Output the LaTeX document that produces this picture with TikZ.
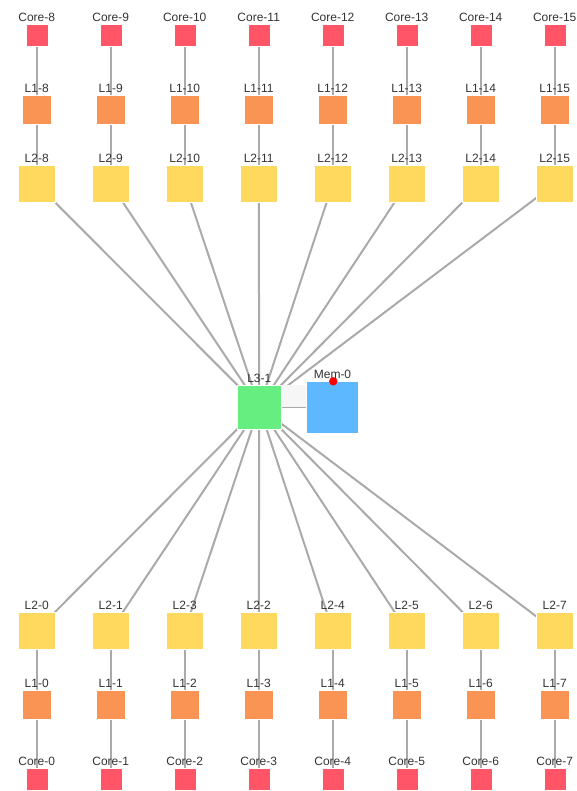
\documentclass[tikz,border=0pt]{standalone}
\usepackage{fontspec}
\setmainfont{Liberation Sans}
\pgfdeclarelayer{bg}
\pgfsetlayers{bg,main}
\definecolor{corec}{RGB}{255,85,102}
\definecolor{lonec}{RGB}{249,148,85}
\definecolor{ltwoc}{RGB}{255,217,94}
\definecolor{lthreec}{RGB}{102,238,128}
\definecolor{memc}{RGB}{94,184,255}
\definecolor{edgec}{RGB}{170,170,170}
\definecolor{txtc}{RGB}{51,51,51}
\definecolor{shadec}{RGB}{246,246,246}
\begin{document}
\begin{tikzpicture}[x=1pt,y=-1pt,
  box/.style={draw=white, line width=0.4pt, inner sep=0pt, outer sep=0pt, rectangle},
  corebox/.style={box, fill=corec, minimum size=22pt},
  lonebox/.style={box, fill=lonec, minimum size=29pt},
  ltwobox/.style={box, fill=ltwoc, minimum size=37pt},
  lthreebox/.style={box, fill=lthreec, minimum size=44pt},
  membox/.style={box, fill=memc, minimum size=52pt},
  lbl/.style={anchor=base, font=\fontsize{12}{14}\selectfont, text=txtc, inner sep=0pt},
  link/.style={draw=edgec, line width=2pt}]
\useasboundingbox (0,0) rectangle (577,791);

% centre
\fill[shadec] (281.3,385) rectangle (306.7,407);
\node[lthreebox] (l3) at (259.3,407) {};
\node[lbl] at (259.3,382.3) {L3-1};
\node[membox] (mem) at (332.5,407) {};
\node[lbl] at (332.5,378.3) {Mem-0};
\fill[red] (333.3,381.3) circle (4.2);

% top columns
\foreach \i in {0,...,7} {
  \pgfmathsetmacro{\cx}{36.7+74*\i}
  \pgfmathtruncatemacro{\n}{\i+8}
  \node[corebox] (core\n) at (\cx,35.5) {};
  \node[lbl] at (\cx,21.6) {Core-\n};
  \node[lonebox] (lone\n) at (\cx,109.5) {};
  \node[lbl] at (\cx,92.3) {L1-\n};
  \node[ltwobox] (ltwo\n) at (\cx,184) {};
  \node[lbl] at (\cx,163) {L2-\n};
  \begin{pgfonlayer}{bg}
    \draw[link] (core\n.center) -- (lone\n.center);
    \draw[link] (lone\n.center) -- (ltwo\n.center);
    \draw[link] (ltwo\n.center) -- (l3.center);
  \end{pgfonlayer}
}

% bottom columns
\foreach \i/\lt in {0/0,1/1,2/3,3/2,4/4,5/5,6/6,7/7} {
  \pgfmathsetmacro{\cx}{36.7+74*\i}
  \node[ltwobox] (ltwo\lt) at (\cx,630.3) {};
  \node[lbl] at (\cx,609) {L2-\lt};
  \node[lonebox] (lone\i) at (\cx,704.7) {};
  \node[lbl] at (\cx,687.3) {L1-\i};
  \node[corebox] (core\i) at (\cx,779.2) {};
  \node[lbl] at (\cx,765.5) {Core-\i};
  \begin{pgfonlayer}{bg}
    \draw[link] (ltwo\lt.center) -- (lone\i.center);
    \draw[link] (lone\i.center) -- (core\i.center);
    \draw[link] (ltwo\lt.center) -- (l3.center);
  \end{pgfonlayer}
}

\begin{pgfonlayer}{bg}
  \draw[link] (l3.center) -- (mem.center);
\end{pgfonlayer}
\end{tikzpicture}
\end{document}
